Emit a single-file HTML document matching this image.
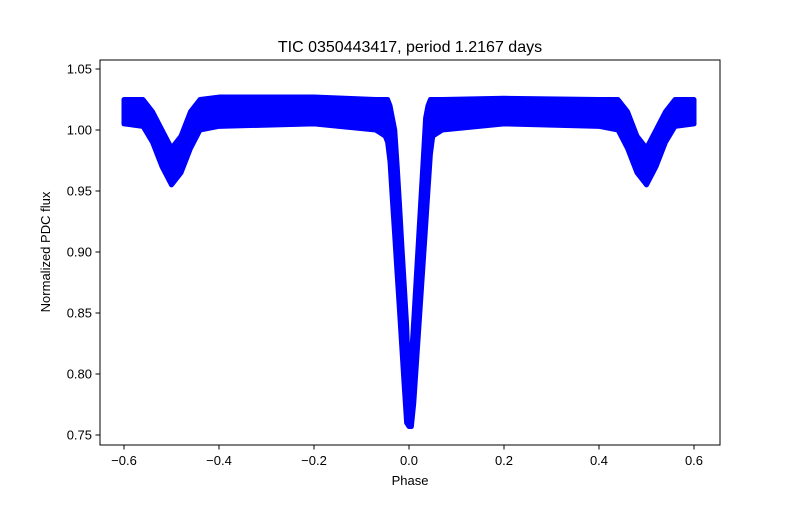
<!DOCTYPE html>
<html><head><meta charset="utf-8"><style>
body{margin:0;background:#fff;font-family:"Liberation Sans",sans-serif;}
svg text{font-family:"Liberation Sans",sans-serif;}
</style></head><body>
<svg id="chart" width="800" height="500">
<g id="plot"></g>
<rect x="100" y="60" width="620" height="385" fill="none" stroke="#000" stroke-width="1"/>
<g id="axes"></g>
<text x="410" y="52" text-anchor="middle" font-size="16">TIC 0350443417, period 1.2167 days</text>
<text x="410" y="485" text-anchor="middle" font-size="13">Phase</text>
<text transform="translate(50,252) rotate(-90)" text-anchor="middle" font-size="13">Normalized PDC flux</text>
</svg>
<script>
const phase = [-0.60,-0.56,-0.54,-0.52,-0.50,-0.48,-0.46,-0.44,-0.40,-0.20,-0.07,-0.05,-0.045,-0.04,-0.035,-0.03,-0.025,-0.02,-0.015,-0.01,-0.005,0.0,0.005,0.01,0.015,0.02,0.025,0.03,0.035,0.04,0.045,0.05,0.07,0.20,0.40,0.44,0.46,0.48,0.50,0.52,0.54,0.56,0.60];
const fluxHigh = [1.025,1.025,1.015,1.0,0.985,0.995,1.015,1.025,1.027,1.027,1.025,1.025,1.025,1.02,1.01,1.0,0.971,0.939,0.905,0.873,0.840,0.79,0.812,0.844,0.877,0.910,0.943,0.976,1.01,1.02,1.025,1.025,1.025,1.026,1.025,1.025,1.015,0.995,0.985,1.0,1.015,1.025,1.025];
const fluxLow = [1.005,1.003,0.99,0.97,0.955,0.965,0.985,1.0,1.003,1.005,1.0,0.995,0.99,0.974,0.943,0.913,0.882,0.852,0.821,0.790,0.760,0.757,0.757,0.776,0.805,0.834,0.863,0.892,0.921,0.951,0.980,0.995,1.0,1.005,1.003,1.0,0.985,0.965,0.955,0.97,0.99,1.003,1.005];
const xTicks = [-0.6,-0.4,-0.2,0.0,0.2,0.4,0.6];
const yTicks = [0.75,0.80,0.85,0.90,0.95,1.00,1.05];
const xs = p => 409 + 475*p;
const ys = f => 130 - (f-1)*1220;
const NS='http://www.w3.org/2000/svg';
const plot=document.getElementById('plot'), axes=document.getElementById('axes');
let pts=[];
for(let i=0;i<phase.length;i++) pts.push(xs(phase[i])+','+ys(fluxHigh[i]));
for(let i=phase.length-1;i>=0;i--) pts.push(xs(phase[i])+','+ys(fluxLow[i]));
const poly=document.createElementNS(NS,'polygon');
poly.setAttribute('points',pts.join(' '));
poly.setAttribute('fill','#0000ff');poly.setAttribute('stroke','#0000ff');
poly.setAttribute('stroke-width','5');poly.setAttribute('stroke-linejoin','round');


plot.appendChild(poly);
xTicks.forEach(t=>{
 const l=document.createElementNS(NS,'line');
 l.setAttribute('x1',xs(t));l.setAttribute('x2',xs(t));l.setAttribute('y1',445);l.setAttribute('y2',449.5);l.setAttribute('stroke','#000');
 
 
 axes.appendChild(l);
 const tx=document.createElementNS(NS,'text');
 tx.setAttribute('x',xs(t));tx.setAttribute('y',465);tx.setAttribute('text-anchor','middle');tx.setAttribute('font-size','13');
 tx.textContent=(t<0?'\u2212':'')+Math.abs(t).toFixed(1);
 
 
 axes.appendChild(tx);
});
yTicks.forEach(t=>{
 const l=document.createElementNS(NS,'line');
 l.setAttribute('x1',95.5);l.setAttribute('x2',100);l.setAttribute('y1',ys(t));l.setAttribute('y2',ys(t));l.setAttribute('stroke','#000');
 
 
 axes.appendChild(l);
 const tx=document.createElementNS(NS,'text');
 tx.setAttribute('x',92);tx.setAttribute('y',ys(t)+4.5);tx.setAttribute('text-anchor','end');tx.setAttribute('font-size','13');
 tx.textContent=t.toFixed(2);
 
 
 axes.appendChild(tx);
});
</script>
</body></html>
